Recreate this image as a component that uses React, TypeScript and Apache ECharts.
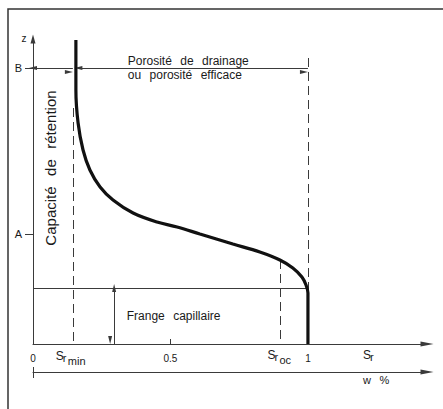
import React, { useEffect, useRef } from 'react';
import * as echarts from 'echarts';

// Retention curve: degree of saturation Sr vs height z
const curveSr = [0.156, 0.156, 0.164, 0.182, 0.207, 0.244, 0.291, 0.364, 0.451, 0.524, 0.607, 0.727, 0.825, 0.898, 0.945, 0.978, 0.993, 1.0, 1.0];
const curveZ = [3.04, 2.54, 2.21, 1.94, 1.74, 1.57, 1.44, 1.31, 1.22, 1.17, 1.10, 1.00, 0.92, 0.84, 0.76, 0.67, 0.59, 0.51, 0];

const xLabelValues = [0, 0.5, 1];
const xLabelTexts = ['0', '0.5', '1'];
const xTickValues = [0.5];
const levelValues = [1.10, 2.76];
const levelLabels = ['A', 'B'];

const SR_MIN = 0.145;
const SR_OC = 0.9;
const SR_MAX = 1;
const Z_B = 2.76;
const Z_FRINGE = 0.56;
const FRINGE_ARROW_X = 0.295;
const DASH_TOP_MIN = 2.36;
const DASH_TOP_OC = 0.84;
const DASH_TOP_MAX = 2.86;
const X_MAX = 1.433;
const Y_MAX = 3.05;

const FONT = '"Liberation Sans", Arial, sans-serif';
const INK = '#1a1a1a';
const LINE = '#3a3a3a';

export default function App() {
  const ref = useRef<HTMLDivElement>(null);
  useEffect(() => {
    if (!ref.current) return;
    const chart = echarts.init(ref.current, null, { renderer: 'svg' });
    const arrowEnd = { symbol: ['triangle', 'triangle'], symbolSize: [4, 8], symbolOffset: [0, 4] };
    const option: any = {
      animation: false,
      backgroundColor: '#ffffff',
      grid: { left: 33, right: 16, top: 39, bottom: 65 },
      xAxis: [
        {
          type: 'value', min: 0, max: X_MAX,
          axisLine: { show: true, onZero: false, symbol: ['none', 'triangle'], symbolSize: [5, 13], lineStyle: { color: LINE, width: 1 } },
          axisTick: { show: true, inside: true, length: 5, customValues: xTickValues, lineStyle: { color: LINE } },
          axisLabel: {
            show: true, customValues: xLabelValues, margin: 9, color: INK, fontSize: 10, fontFamily: FONT,
            formatter: (v: number) => xLabelTexts[xLabelValues.indexOf(v)] ?? '',
          },
          splitLine: { show: false },
        },
        {
          type: 'value', min: 0, max: X_MAX, position: 'bottom', offset: 28,
          axisLine: { show: true, onZero: false, symbol: ['none', 'triangle'], symbolSize: [5, 13], lineStyle: { color: LINE, width: 1 } },
          axisTick: { show: false }, axisLabel: { show: false }, splitLine: { show: false },
        },
      ],
      yAxis: {
        type: 'value', min: 0, max: Y_MAX,
        axisLine: { show: true, onZero: false, symbol: ['none', 'triangle'], symbolSize: [5, 9], lineStyle: { color: LINE, width: 1 } },
        axisTick: { show: true, length: 8, customValues: levelValues, lineStyle: { color: LINE } },
        axisLabel: {
          show: true, customValues: levelValues, margin: 11, color: INK, fontSize: 11, fontFamily: FONT,
          formatter: (v: number) => levelLabels[levelValues.indexOf(v)] ?? '',
        },
        splitLine: { show: false },
      },
      series: [
        {
          type: 'line', xAxisIndex: 0, yAxisIndex: 0,
          data: curveSr.map((s, i) => [s, curveZ[i]]),
          smooth: 0.35, showSymbol: false, symbol: 'none',
          lineStyle: { color: '#111', width: 3.2 }, z: 5,
        },
        {
          type: 'line', xAxisIndex: 0, yAxisIndex: 0, data: [],
          markLine: {
            silent: true, animation: false, label: { show: false },
            symbol: ['none', 'none'],
            lineStyle: { color: LINE, width: 1, type: [9, 5] },
            data: [
              [{ coord: [SR_MIN, DASH_TOP_MIN] }, { coord: [SR_MIN, 0] }],
              [{ coord: [SR_OC, DASH_TOP_OC] }, { coord: [SR_OC, 0] }],
              [{ coord: [SR_MAX, DASH_TOP_MAX] }, { coord: [SR_MAX, 0] }],
              [{ coord: [0, Z_FRINGE], lineStyle: { type: 'solid' } }, { coord: [0.993, Z_FRINGE] }],
            ],
          },
        },
        {
          type: 'line', xAxisIndex: 0, yAxisIndex: 0, data: [],
          markLine: {
            silent: true, animation: false, label: { show: false },
            ...arrowEnd,
            lineStyle: { color: LINE, width: 1, type: 'solid' },
            data: [
              [{ coord: [0, Z_B] }, { coord: [SR_MIN, Z_B] }],
              [{ coord: [0.165, Z_B] }, { coord: [SR_MAX, Z_B] }],
              [{ coord: [FRINGE_ARROW_X, Z_FRINGE] }, { coord: [FRINGE_ARROW_X, 0] }],
            ],
          },
        },
      ],
    };
    chart.setOption(option);

    const px = (x: number, y: number) => chart.convertToPixel({ xAxisIndex: 0, yAxisIndex: 0 }, [x, y]) as number[];
    const txt = (x: number, y: number, text: string, size: number, extra: any = {}) => ({
      type: 'text', x, y, silent: true,
      style: { text, fill: INK, font: `${size}px ${FONT}`, align: 'left', verticalAlign: 'middle', ...extra.style },
      ...(extra.rotation != null ? { rotation: extra.rotation } : {}),
    });
    const subLabel = (x: number, y: number, main: string, r: string, sub: string) => [
      txt(x, y, main, 12),
      txt(x + 7, y + 2, r, 11),
      sub ? txt(x + 12, y + 5, sub, 11) : null,
    ].filter(Boolean);

    const origin = px(0, 0);
    const top = px(0, Y_MAX);
    const pMin = px(SR_MIN, 0);
    const pOc = px(SR_OC, 0);
    const pEnd = px(X_MAX, 0);
    const pB = px(0.345, Z_B);
    const pFr = px(0.341, Z_FRINGE / 2);
    const pCap = px(0.065, 1.76);
    const GAP = '\u2002\u2009';

    const graphic: any[] = [
      { type: 'rect', shape: { x: 8, y: 9, width: 600, height: 600 }, style: { fill: 'none', stroke: '#333', lineWidth: 1.5 }, silent: true },
      txt(top[0] - 9, top[1] - 1, 'z', 10, { style: { align: 'center' } }),
      txt(pB[0], pB[1] - 7, `Porosité${GAP}de${GAP}drainage`, 12),
      txt(pB[0], pB[1] + 7, `ou${GAP}porosité${GAP}efficace`, 12),
      txt(pFr[0], pFr[1], `Frange${GAP}capillaire`, 12),
      txt(pCap[0], pCap[1], `Capacité${GAP}de${GAP}rétention`, 15, { rotation: Math.PI / 2, style: { align: 'center' } }),
      ...subLabel(pMin[0] - 17, origin[1] + 12, 'S', 'r', 'min'),
      ...subLabel(pOc[0] - 13, origin[1] + 11, 'S', 'r', 'oc'),
      ...subLabel(pEnd[0] - 64, origin[1] + 11, 'S', 'r', ''),
      txt(pEnd[0] - 64, origin[1] + 36, 'w\u2002 %', 11),
      { type: 'line', shape: { x1: origin[0] + 0.5, y1: origin[1] + 23, x2: origin[0] + 0.5, y2: origin[1] + 34 }, style: { stroke: LINE, lineWidth: 1 }, silent: true },
    ];
    chart.setOption({ graphic });

    return () => chart.dispose();
  }, []);
  return <div ref={ref} style={{ position: 'fixed', left: 0, top: 0, width: 443, height: 409 }} />;
}
